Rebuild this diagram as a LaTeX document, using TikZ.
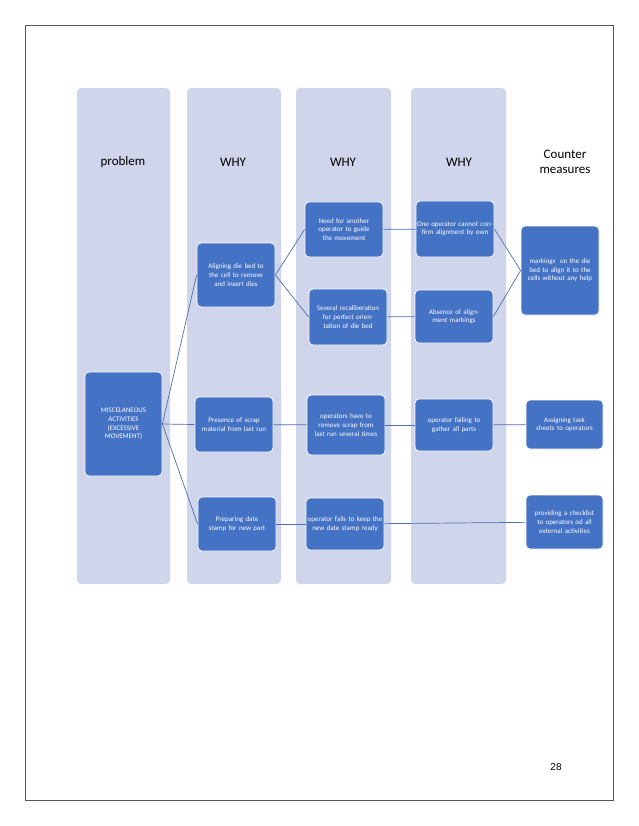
\documentclass[tikz,border=0pt]{standalone}
\usepackage{fontspec}
\setmainfont{Carlito}
\newfontfamily\arialf{Liberation Sans}
\definecolor{lane}{HTML}{CFD5EA}
\definecolor{boxblue}{HTML}{4472C4}
\definecolor{wire}{HTML}{4F6FB0}
\begin{document}
\begin{tikzpicture}[x=1pt,y=-1pt,
  lane/.style={fill=lane,draw=none,rounded corners=4pt},
  head/.style={font=\fontsize{13}{15}\selectfont,align=center},
  box/.style={fill=boxblue,draw=white,line width=0.8pt,rounded corners=4pt,
    text=white,font=\fontsize{7}{8.6}\selectfont,align=center,inner sep=1pt},
  wire/.style={draw=wire,line width=0.7pt}]
\useasboundingbox (0,0) rectangle (638,826);
\fill[white] (0,0) rectangle (638,826);
\draw[gray!70!black,line width=0.6pt] (25,25) rectangle (613,800);
% lanes
\path[lane] (77,88) rectangle (170,584);
\path[lane] (187,88) rectangle (281,584);
\path[lane] (296,88) rectangle (391,584);
\path[lane] (411,88) rectangle (506,584);
% headers
\node[head] (h1) at (123,162) {problem};
\node[head] (h2) at (233,162) {WHY};
\node[head] (h3) at (343,162) {WHY};
\node[head] (h4) at (459,162) {WHY};
\node[head] (h5) at (565,162) {Counter\\measures};
% boxes
\newcommand{\bx}[6]{\node[box,minimum width=#4-#2,minimum height=#5-#3,text width=#4-#2-2] (#1) at ({(#2+#4)/2},{(#3+#5)/2}) {#6};}
\bx{p}{85}{372}{162}{476}{MISCELANEOUS\\ACTIVITIES\\(EXCESSIVE\\MOVEMENT)}
\bx{a}{197}{243}{275}{307}{Aligning die bed to the cell to remove and insert dies}
\bx{b}{195}{397}{273}{452}{Presence of scrap material from last run}
\bx{c}{198}{497}{276}{551}{Preparing date stamp for new part}
\bx{a1}{305}{202}{383}{257}{Need for another operator to guide the movement}
\bx{a2}{309}{289}{387}{345}{Several recaliberation for perfect orientation of die bed}
\bx{b1}{307}{395}{385}{455}{operators have to remove scrap from last run several times}
\bx{c1}{306}{498}{384}{550}{operator fails to keep the new date stamp ready}
\bx{a11}{416}{201}{494}{257}{One operator cannot confirm alignment by own}
\bx{a21}{415}{290}{493}{343}{Absence of alignment markings}
\bx{b11}{415}{399}{493}{451}{operator failing to gather all parts}
\bx{m}{521}{226}{599}{315}{markings\ \ on the die bed to align it to the cells without any help}
\bx{bm}{526}{400}{603}{449}{Assigning task sheets to operators}
\bx{cm}{526}{495}{603}{549}{providing a checklist to operators od all external activities}
% connectors
\draw[wire] (p.east) -- (a.west);
\draw[wire] (p.east) -- (b.west);
\draw[wire] (p.east) -- (c.west);
\draw[wire] (a.east) -- (a1.west);
\draw[wire] (a.east) -- (a2.west);
\draw[wire] (a1) -- (a11);
\draw[wire] (a2) -- (a21);
\draw[wire] (a11.east) -- (m.west);
\draw[wire] (a21.east) -- (m.west);
\draw[wire] (b) -- (b1);
\draw[wire] (b1) -- (b11);
\draw[wire] (b11) -- (bm);
\draw[wire] (c) -- (c1);
\draw[wire] (c1) -- (cm);
\node[font=\arialf\fontsize{10}{12}\selectfont] (pg) at (556,767) {28};
\end{tikzpicture}
\end{document}
